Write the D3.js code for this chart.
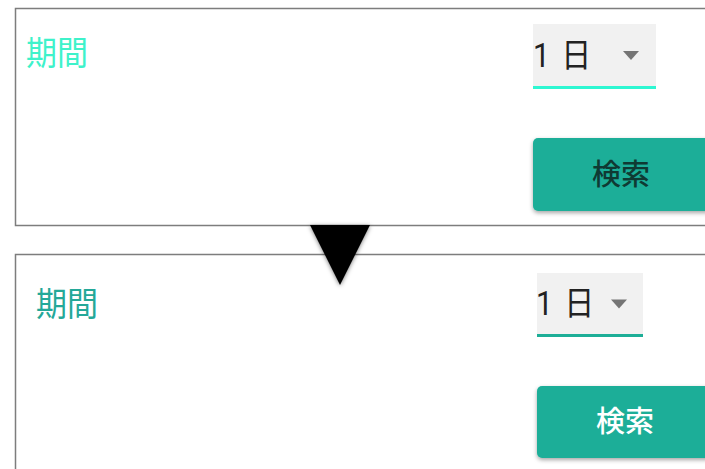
<!DOCTYPE html>
<html>
<head>
<meta charset="utf-8">
<script src="https://cdn.jsdelivr.net/npm/d3@7"></script>
<style>
  html, body { margin: 0; padding: 0; background: #fff; }
  svg { display: block; }
  text { font-family: Roboto, "Noto Sans CJK JP", sans-serif; }
</style>
</head>
<body>
<div id="chart"></div>
<script>
// the two states: before / after
var panelNames = ["before", "after"]
var labelTexts = ["期間", "期間"]
var selectValues = ["1 日", "1 日"]
var buttonTexts = ["検索", "検索"]
var labelColors = ["#3ef2ca", "#24a898"]
var underlineColors = ["#2ef7d2", "#1dae97"]
var buttonTextColors = ["#0f3a33", "#ffffff"]

var W = 705, H = 469

// per panel layout
var layout = [
  {top: 8, labelX: 26, labelY: 54, selX: 533, selY: 24, selW: 123, selH: 62, textX: 533, arrowX: 631, btnY: 138, btnH: 73, btnTextX: 621},
  {top: 254, labelX: 36, labelY: 305, selX: 537, selY: 273, selW: 106, selH: 61, textX: 536, arrowX: 619, btnY: 386, btnH: 72, btnTextX: 625}
]

var svg = d3.select("#chart").append("svg")
  .attr("width", W).attr("height", H)

var defs = svg.append("defs")
var sh = defs.append("filter").attr("id", "btnShadow")
  .attr("x", "-10%").attr("y", "-20%").attr("width", "130%").attr("height", "160%")
sh.append("feDropShadow").attr("dx", 0).attr("dy", 2).attr("stdDeviation", 2)
  .attr("flood-color", "#000").attr("flood-opacity", 0.35)
var tsh = defs.append("filter").attr("id", "triShadow")
  .attr("x", "-30%").attr("y", "-30%").attr("width", "160%").attr("height", "160%")
tsh.append("feDropShadow").attr("dx", 0).attr("dy", 1).attr("stdDeviation", 2)
  .attr("flood-color", "#000").attr("flood-opacity", 0.5)

var panels = svg.selectAll("g.panel")
  .data(panelNames)
  .enter().append("g")
    .attr("class", "panel")

panels.append("rect")
  .attr("x", 15.5)
  .attr("y", function(d, i){ return layout[i].top + 0.5 })
  .attr("width", 760)
  .attr("height", function(d, i){ return i == 0 ? 217 : 300 })
  .style("fill", "#fff")
  .style("stroke", "#7d7d7d")
  .style("stroke-width", 1.5)

// labels, a bit taller than wide like the screenshot
panels.append("text")
  .attr("transform", function(d, i){ return "translate(" + layout[i].labelX + "," + layout[i].labelY + ") scale(1,1.08)" })
  .attr("dominant-baseline", "central")
  .style("font-size", "31px")
  .style("fill", function(d, i){ return labelColors[i] })
  .text(function(d, i){ return labelTexts[i] })

// select box
panels.append("rect")
  .attr("x", function(d, i){ return layout[i].selX })
  .attr("y", function(d, i){ return layout[i].selY })
  .attr("width", function(d, i){ return layout[i].selW })
  .attr("height", function(d, i){ return layout[i].selH })
  .style("fill", "#f1f1f1")

panels.append("rect")
  .attr("x", function(d, i){ return layout[i].selX })
  .attr("y", function(d, i){ return layout[i].selY + layout[i].selH })
  .attr("width", function(d, i){ return layout[i].selW })
  .attr("height", 3)
  .style("fill", function(d, i){ return underlineColors[i] })

panels.append("text")
  .attr("transform", function(d, i){ return "translate(" + layout[i].textX + "," + (layout[i].selY + layout[i].selH / 2 + 1) + ") scale(1,1.1)" })
  .attr("dominant-baseline", "central")
  .style("font-size", "30px")
  .style("letter-spacing", "2px")
  .style("fill", "#222")
  .text(function(d, i){ return selectValues[i] })

panels.append("path")
  .attr("d", function(d, i){
    var cx = layout[i].arrowX, cy = layout[i].selY + layout[i].selH / 2
    return "M" + (cx - 8) + "," + (cy - 4) + "L" + (cx + 8) + "," + (cy - 4) + "L" + cx + "," + (cy + 5) + "Z"
  })
  .style("fill", "#757575")

// button
panels.append("rect")
  .attr("x", function(d, i){ return layout[i].selX })
  .attr("y", function(d, i){ return layout[i].btnY })
  .attr("width", 200)
  .attr("height", function(d, i){ return layout[i].btnH })
  .attr("rx", 5)
  .style("fill", "#1cae98")
  .attr("filter", "url(#btnShadow)")

panels.append("text")
  .attr("x", function(d, i){ return layout[i].btnTextX })
  .attr("y", function(d, i){ return layout[i].btnY + layout[i].btnH / 2 })
  .attr("text-anchor", "middle")
  .attr("dominant-baseline", "central")
  .style("font-size", "29px")
  .style("font-weight", 500)
  .style("fill", function(d, i){ return buttonTextColors[i] })
  .text(function(d, i){ return buttonTexts[i] })

// arrow between the two states
svg.append("path")
  .attr("d", "M310,225L370,225L340,285Z")
  .style("fill", "#000")
  .attr("filter", "url(#triShadow)")
</script>
</body>
</html>
